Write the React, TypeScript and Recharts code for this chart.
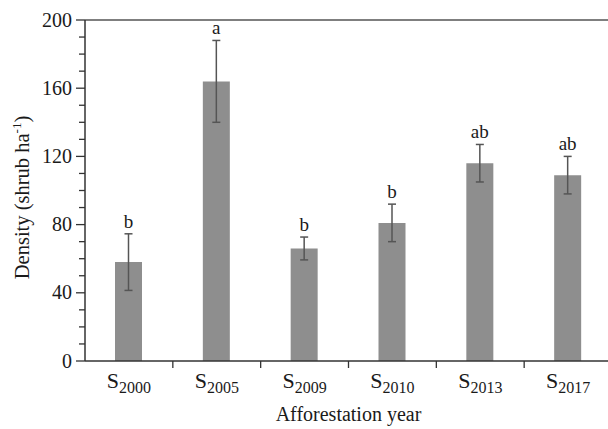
import React from 'react';
import { BarChart, Bar, XAxis, YAxis, ErrorBar, LabelList, ReferenceLine } from 'recharts';

const categories = ['2000', '2005', '2009', '2010', '2013', '2017'];
const density = [58, 164, 66, 81, 116, 109];
const errors = [16.6, 24, 6.7, 11, 11, 11];
const letters = ['b', 'a', 'b', 'b', 'ab', 'ab'];
const yTicks = [0, 10, 20, 30, 40, 50, 60, 70, 80, 90, 100, 110, 120, 130, 140, 150, 160, 170, 180, 190, 200];
const yLabelStep = 40;

const data = categories.map((c, i) => ({ name: c, density: density[i], err: errors[i], letter: letters[i] }));

const FONT = '"Liberation Serif", "Times New Roman", serif';
const AXIS = '#333';
const TEXT = '#1a1a1a';

const YTick = (props: any) => {
  const { x, y, payload } = props;
  const major = payload.value % yLabelStep === 0;
  return (
    <g>
      <line x1={x - (major ? 9 : 6)} x2={x} y1={y} y2={y} stroke={AXIS} strokeWidth={1.3} />
      {major && (
        <text x={x - 13} y={y} dy={6.5} textAnchor="end" fontSize={20} fontFamily={FONT} fill={TEXT}>
          {payload.value}
        </text>
      )}
    </g>
  );
};

const XTick = (props: any) => {
  const { x, y, payload } = props;
  const off = payload.offset ?? 0;
  return (
    <g>
      <line x1={x + off} x2={x + off} y1={y} y2={y + 7} stroke={AXIS} strokeWidth={1.3} />
      <text x={x} y={y + 27} textAnchor="middle" fontFamily={FONT} fill={TEXT}>
        <tspan fontSize={22}>S</tspan>
        <tspan fontSize={16} dy={5}>{payload.value}</tspan>
      </text>
    </g>
  );
};

const LetterLabel = (props: any) => {
  const { x, y, width, height, value, index } = props;
  const perUnit = height / density[index];
  const top = y - errors[index] * perUnit;
  return (
    <text x={x + width / 2} y={top - 6} textAnchor="middle" fontSize={19} fontFamily={FONT} fill={TEXT}>
      {value}
    </text>
  );
};

const XTitle = (props: any) => {
  const { viewBox } = props;
  return (
    <text x={viewBox.x + viewBox.width / 2} y={viewBox.y + 60} textAnchor="middle" fontSize={20} fontFamily={FONT} fill={TEXT}>
      Afforestation year
    </text>
  );
};

const YTitle = (props: any) => {
  const { viewBox } = props;
  const cx = viewBox.x + 29;
  const cy = viewBox.y + viewBox.height / 2 + 7;
  return (
    <text x={cx} y={cy} textAnchor="middle" fontSize={20.5} fontFamily={FONT} fill={TEXT} transform={`rotate(-90, ${cx}, ${cy})`}>
      Density (shrub ha
      <tspan fontSize={13} dy={-8}>-1</tspan>
      <tspan dy={8}>)</tspan>
    </text>
  );
};

export default function App() {
  return (
    <div style={{ position: 'absolute', left: 0, top: 0, width: 608, height: 429, overflow: 'hidden', background: '#fff' }}>
      <BarChart width={620} height={429} data={data} margin={{ top: 20, right: 8, bottom: 0, left: 0 }} barSize={27}>
        <XAxis
          dataKey="name"
          height={68}
          axisLine={{ stroke: AXIS, strokeWidth: 1.5 }}
          tickLine={false}
          tickSize={0}
          tickMargin={0}
          tick={<XTick />}
          interval={0}
          label={<XTitle />}
        />
        <YAxis
          width={85}
          domain={[0, 200]}
          ticks={yTicks}
          interval={0}
          axisLine={{ stroke: AXIS, strokeWidth: 1.5 }}
          tickLine={false}
          tickSize={0}
          tickMargin={0}
          tick={<YTick />}
          label={<YTitle />}
        />
        <ReferenceLine y={200} stroke="#555" strokeWidth={1.5} />
        <Bar dataKey="density" fill="#8e8e8e" isAnimationActive={false}>
          <ErrorBar dataKey="err" width={4} stroke="#555" strokeWidth={1.5} direction="y" />
          <LabelList dataKey="letter" content={<LetterLabel />} />
        </Bar>
      </BarChart>
    </div>
  );
}
